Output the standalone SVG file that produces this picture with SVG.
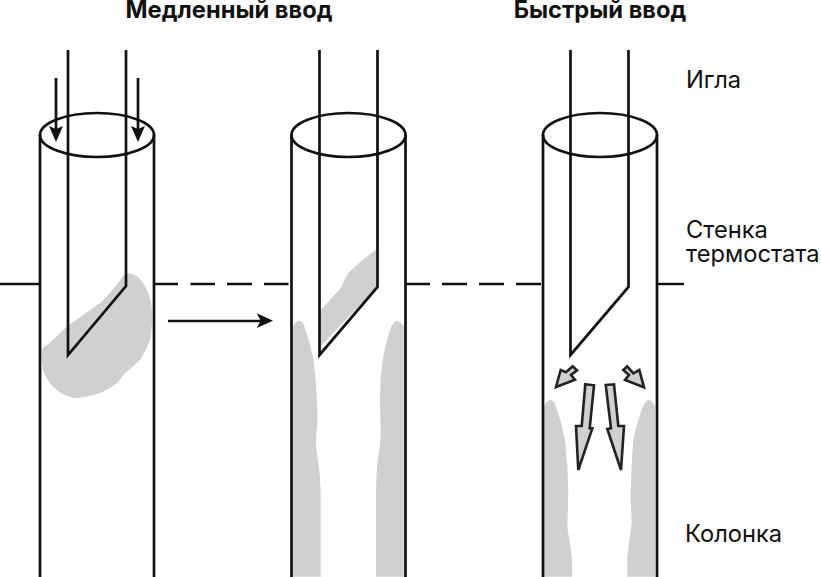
<svg xmlns="http://www.w3.org/2000/svg" width="821" height="577" viewBox="0 0 821 577">
<style>
.ln{fill:none;stroke:#111;stroke-width:2.7}
.th{fill:none;stroke:#111;stroke-width:2.4}
.gr{fill:#cfd1d0;stroke:none}
.ga{fill:#cfd1d0;stroke:#222;stroke-width:2.6;stroke-linejoin:miter}
.hd{fill:#111;stroke:none}
.t{font-family:Inter,"Liberation Sans",sans-serif;font-size:23.7px;fill:#111}
.b{font-weight:700}
</style>
<rect width="821" height="577" fill="#fff"/>
<g id="blobs">
<path class="gr" d="M42.700 348Q48 345 54 339Q60 333 66.700 326.700Q83 315 100 303Q111 293 120 280Q124 273 130 273Q138 275 143 283Q150 293 151.700 307Q153 325 150 340Q146 351 140 360Q133 367 125 373Q121 378 118 382Q110 389 100 393Q86 398 73 398Q62 395 53 387Q46 379 43 370Q41 358 42.700 348Z"/>
<path class="gr" d="M320 311L341.700 287Q344 279 348.300 273Q361 260 377 249L377 287L320 347Z"/>
<path class="gr" d="M292.700 326.700Q296 321 299.300 320.700Q303 321 305 328Q310 343 313.300 358Q316 378 316.700 397Q317.800 412 317.300 423Q316 436 316 447Q318 458 319.300 470Q320.700 484 320.700 497L320.700 576.700L292.700 576.700Z"/>
<path class="gr" d="M404 326.700Q400 321 396.700 320.700Q393 321 390 330Q385 345 382.700 360Q380 378 380 397Q380.200 418 380.700 437Q379.500 450 377.300 463Q376 480 376 497L376 576.700L404 576.700Z"/>
<path class="gr" d="M544 406.700Q547 400 550.700 400Q554 400 556 406.700Q562 423 565 440Q568 465 568.300 490Q568 510 567.300 527Q570 542 571.700 557L572.300 576.700L544 576.700Z"/>
<path class="gr" d="M655 406.700Q652 400 648.300 400Q645 401 641.700 410Q636 425 633.300 440Q631 470 630.700 497Q631 512 631.700 523Q629.500 540 627.300 557L627.300 576.700L655 576.700Z"/>
</g>
<g id="wall">
<path class="th" d="M0 284H40"/>
<path class="th" d="M154 284H178M190.500 284H215M227 284H252M264 284H288.500"/>
<path class="th" d="M405 284H430M442 284H467M479 284H504M516 284H541"/>
<path class="th" d="M657 284H684"/>
</g>
<g id="column-1">
<ellipse class="ln" cx="97" cy="135" rx="57" ry="22"/>
<path class="ln" d="M40 135V577M154 135V577"/>
</g>
<g id="needle-1"><path class="ln" d="M68 50V355L126 286V50"/></g>
<g id="column-2">
<ellipse class="ln" cx="348.500" cy="135" rx="57" ry="22"/>
<path class="ln" d="M291.500 135V577M405.500 135V577"/>
</g>
<g id="needle-2"><path class="ln" d="M319.500 50V355L377.500 287V50"/></g>
<g id="column-3">
<ellipse class="ln" cx="600" cy="135" rx="57" ry="22"/>
<path class="ln" d="M543 135V577M657 135V577"/>
</g>
<g id="needle-3"><path class="ln" d="M570.500 50V355L628.500 287V50"/></g>
<g id="connectors">
<path d="M56 78V130" class="ln"/><path class="hd" d="M49 126L56 129L63 126L56 142Z"/>
<path d="M138 78V130" class="ln"/><path class="hd" d="M131 126L138 129L145 126L138 142Z"/>
<path d="M168 321H262" class="ln"/><path class="hd" d="M256.700 313.300L273 320.800L256.700 328L260.700 320.800Z"/>
<path class="ga" d="M585.300 384.300L594 385.300L589.700 428.300L592.300 428.300L578.300 470L576 426L581.700 426Z"/>
<path class="ga" d="M605.700 385L614 384.300L618.300 426L624 426L621 470L607.300 429L611 428.300Z"/>
<path class="ga" d="M556 387L560.700 370L566 372.300L572.700 366.300L577 370.300L571 375L575 379.700Z"/>
<path class="ga" d="M644 387.300L639.300 370L633.300 373.300L627.300 366.300L623.300 370L629 375L625 380Z"/>
</g>
<g id="labels">
<text class="t b" x="229" y="18" text-anchor="middle">Медленный ввод</text>
<text class="t b" x="600" y="18" text-anchor="middle">Быстрый ввод</text>
<text class="t" x="686" y="88">Игла</text>
<text class="t" x="686" y="238">Стенка</text>
<text class="t" x="686" y="262">термостата</text>
<text class="t" x="685" y="542">Колонка</text>
</g>
</svg>
